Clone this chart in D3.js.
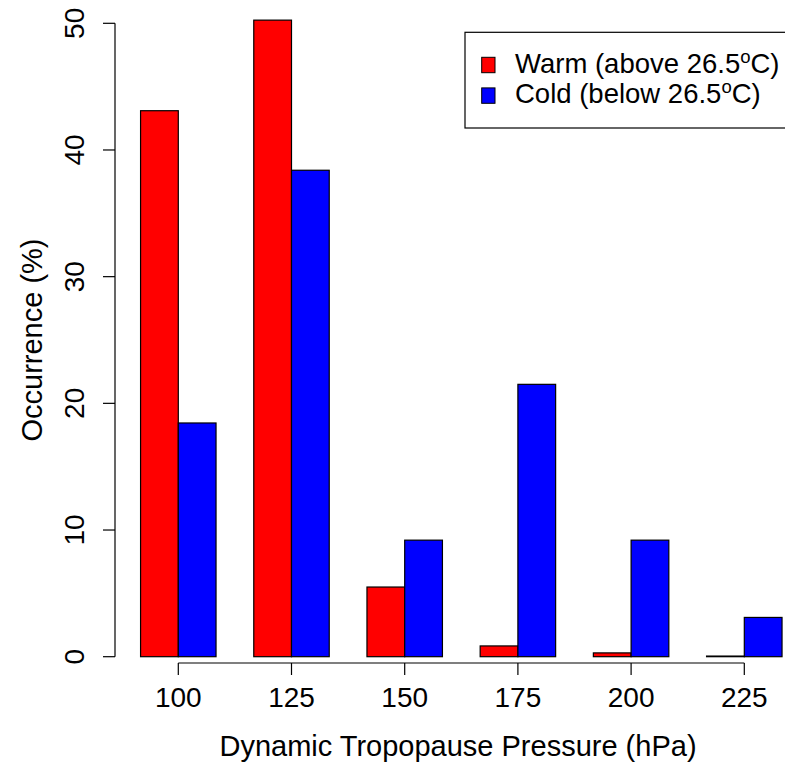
<!DOCTYPE html>
<html lang="en">
<head>
<meta charset="UTF-8">
<title>Tropopause pressure occurrence</title>
<script src="https://d3js.org/d3.v7.min.js"></script>
<style>
  body { margin: 0; background: #fff; }
  text { font-family: "Liberation Sans", Arial, sans-serif; fill: #000; }
</style>
</head>
<body>
<div id="chart"></div>
<script>
// data
const pressures = ["100", "125", "150", "175", "200", "225"];
const warm = [43.1, 50.25, 5.5, 0.85, 0.3, 0.05];
const cold = [18.45, 38.4, 9.2, 21.5, 9.2, 3.1];
const seriesNames = ["Warm (above 26.5", "Cold (below 26.5"];
const seriesColors = ["#ff0000", "#0000ff"];
const yTicks = [0, 10, 20, 30, 40, 50];

const W = 785, H = 764;
const svg = d3.select("#chart").append("svg")
    .attr("width", W).attr("height", H);

// R barplot style units: each group = 2 bars + 1 bar of space
const x = d3.scaleLinear().domain([2, 17]).range([178.3, 744.3]);
const y = d3.scaleLinear().domain([0, 50]).range([656.7, 23.3]);

const bars = [];
pressures.forEach((p, i) => {
    bars.push({ u: 1 + 3 * i, v: warm[i], c: seriesColors[0] });
    bars.push({ u: 2 + 3 * i, v: cold[i], c: seriesColors[1] });
});

svg.selectAll("rect.bar")
    .data(bars)
    .enter()
    .append("rect")
    .attr("class", "bar")
    .attr("x", d => x(d.u))
    .attr("width", x(1) - x(0))
    .attr("y", d => y(d.v))
    .attr("height", d => y(0) - y(d.v))
    .attr("fill", d => d.c)
    .attr("stroke", "#000")
    .attr("stroke-width", 1.2);

// y axis
const yAxis = svg.append("g").attr("transform", "translate(115,0)");
yAxis.append("line")
    .attr("y1", y(0)).attr("y2", y(50))
    .attr("stroke", "#000").attr("stroke-width", 1.2);
yAxis.selectAll("line.tick").data(yTicks).enter().append("line")
    .attr("x1", 0).attr("x2", -12)
    .attr("y1", d => y(d)).attr("y2", d => y(d))
    .attr("stroke", "#000").attr("stroke-width", 1.2);
yAxis.selectAll("text").data(yTicks).enter().append("text")
    .attr("transform", d => `translate(-31,${y(d)}) rotate(-90)`)
    .attr("text-anchor", "middle")
    .style("font-size", "28px")
    .text(d => d);

// x axis
const xTickPos = pressures.map((p, i) => x(2 + 3 * i));
const xAxis = svg.append("g").attr("transform", "translate(0,663)");
xAxis.append("line")
    .attr("x1", xTickPos[0]).attr("x2", xTickPos[xTickPos.length - 1])
    .attr("stroke", "#000").attr("stroke-width", 1.2);
xAxis.selectAll("line.tick").data(xTickPos).enter().append("line")
    .attr("x1", d => d).attr("x2", d => d)
    .attr("y1", 0).attr("y2", 12)
    .attr("stroke", "#000").attr("stroke-width", 1.2);
xAxis.selectAll("text").data(pressures).enter().append("text")
    .attr("x", (d, i) => xTickPos[i])
    .attr("y", 44)
    .attr("text-anchor", "middle")
    .style("font-size", "28px")
    .text(d => d);

// axis titles
svg.append("text")
    .attr("x", 458).attr("y", 756)
    .attr("text-anchor", "middle")
    .style("font-size", "29px")
    .text("Dynamic Tropopause Pressure (hPa)");
svg.append("text")
    .attr("transform", "translate(42,340) rotate(-90)")
    .attr("text-anchor", "middle")
    .style("font-size", "29px")
    .text("Occurrence (%)");

// legend (box runs off the right edge, as in the original)
const legend = svg.append("g").attr("transform", "translate(465,32.3)");
legend.append("rect")
    .attr("width", 340).attr("height", 95.7)
    .attr("fill", "#fff").attr("stroke", "#000").attr("stroke-width", 1.2);
seriesNames.forEach((name, i) => {
    const row = legend.append("g").attr("transform", `translate(0,${40.4 + i * 30.6})`);
    row.append("rect")
        .attr("x", 16.7).attr("y", -15.4).attr("width", 13.3).attr("height", 15.4)
        .attr("fill", seriesColors[i]).attr("stroke", "#000").attr("stroke-width", 1);
    const t = row.append("text")
        .attr("x", 50).attr("y", 0)
        .style("font-size", "27.5px");
    t.append("tspan").text(name);
    t.append("tspan").attr("dy", -10).style("font-size", "18.5px").text("o");
    t.append("tspan").attr("dy", 10).text("C)");
});
</script>
</body>
</html>
